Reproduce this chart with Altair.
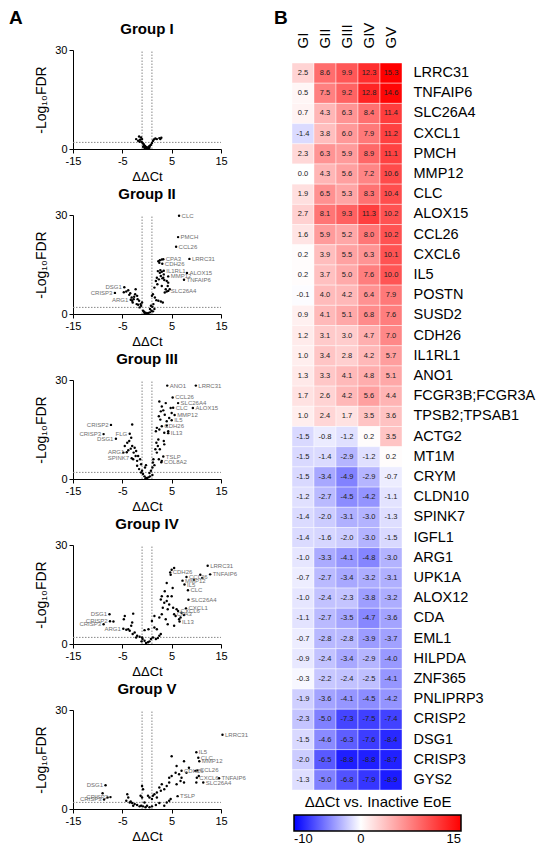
import altair as alt
import pandas as pd

# ---------------- Heatmap data (panel B) ----------------
genes = ["LRRC31", "TNFAIP6", "SLC26A4", "CXCL1", "PMCH", "MMP12", "CLC", "ALOX15",
         "CCL26", "CXCL6", "IL5", "POSTN", "SUSD2", "CDH26", "IL1RL1", "ANO1",
         "FCGR3B;FCGR3A", "TPSB2;TPSAB1", "ACTG2", "MT1M", "CRYM", "CLDN10", "SPINK7",
         "IGFL1", "ARG1", "UPK1A", "ALOX12", "CDA", "EML1", "HILPDA", "ZNF365",
         "PNLIPRP3", "CRISP2", "DSG1", "CRISP3", "GYS2"]
groups = ["GI", "GII", "GIII", "GIV", "GV"]
hm_GI = [2.5, 0.5, 0.7, -1.4, 2.3, 0.0, 1.9, 2.7, 1.6, 0.2, 0.2, -0.1, 0.9, 1.2, 1.0, 1.3,
         1.7, 1.0, -1.5, -1.5, -1.5, -1.2, -1.4, -1.4, -1.0, -0.7, -1.0, -1.1, -0.7, -0.9,
         -0.3, -1.9, -2.3, -1.5, -2.0, -1.3]
hm_GII = [8.6, 7.5, 4.3, 3.8, 6.3, 4.3, 6.5, 8.1, 5.9, 3.9, 3.7, 4.0, 4.1, 3.1, 3.4, 3.3,
          2.6, 2.4, -0.8, -1.4, -3.4, -2.7, -2.0, -1.6, -3.3, -2.7, -2.4, -2.7, -2.8, -2.4,
          -2.2, -3.6, -5.0, -4.6, -6.5, -5.0]
hm_GIII = [9.9, 9.2, 6.3, 6.0, 5.9, 5.6, 5.3, 9.3, 5.2, 5.5, 5.0, 4.2, 5.1, 3.0, 2.8, 4.1,
           4.2, 1.7, -1.2, -2.9, -4.9, -4.5, -3.1, -2.0, -4.1, -3.4, -2.3, -3.5, -2.8, -3.4,
           -2.4, -4.1, -7.3, -6.3, -8.8, -6.8]
hm_GIV = [12.3, 12.8, 8.4, 7.9, 8.9, 7.2, 8.3, 11.3, 8.0, 6.3, 7.6, 6.4, 6.8, 4.7, 4.2, 4.8,
          5.6, 3.5, 0.2, -1.2, -2.9, -4.2, -3.0, -3.0, -4.8, -3.2, -3.8, -4.7, -3.9, -2.9,
          -2.5, -4.5, -7.5, -7.6, -8.8, -7.9]
hm_GV = [15.3, 14.6, 11.4, 11.2, 11.1, 10.6, 10.4, 10.2, 10.2, 10.1, 10.0, 7.9, 7.6, 7.0, 5.7,
         5.1, 4.4, 3.6, 3.5, 0.2, -0.7, -1.1, -1.3, -1.5, -3.0, -3.1, -3.2, -3.6, -3.7, -4.0,
         -4.1, -4.2, -7.4, -8.4, -8.7, -8.9]
color_domain = [-10, 0, 15]
color_range = ["#0000ff", "#ffffff", "#ff0000"]

# ---------------- Volcano data (panel A) ----------------
x_ticks = [-15, -10, -5, 0, 5, 10, 15]
y_ticks = [0, 10, 20, 30]
fc_cut = [-1, 1]
fdr_cut = [2]

g1_x = [-1.2, -1.0, -1.4, -1.8, -1.1, -0.9, -0.7, -0.6, -0.4, -0.2, 0.0, 0.2, 0.4, 0.6, -0.5,
        0.1, 1.4, 1.7, 2.0, 2.5, 2.7, 1.2, 0.8, -0.3, 0.3, -0.8, -1.5, 1.0, -2.2, -1.6, 2.9, 0.5]
g1_y = [3.5, 3.0, 2.8, 2.5, 2.2, 1.8, 1.5, 1.2, 0.9, 0.6, 0.3, 0.5, 0.8, 1.0, 0.3,
        0.1, 2.9, 3.2, 3.0, 3.3, 3.0, 2.4, 1.3, 0.4, 0.2, 0.7, 2.2, 1.8, 3.0, 3.8, 3.4, 0.4]
g1_lab = []
g1_lx = []
g1_ly = []

g2_x = [2.3, 2.6, 3.0, 2.5, 2.2, 2.6, 3.0, 2.8, 3.3, 2.0, 2.4, 1.8, 3.5, 4.0, 2.1, 3.0, 1.5,
        3.8, 4.2, 4.0, 3.6, 1.2, 1.0, 1.6, 1.9, 2.3, 2.8, 3.2, 1.3, 1.1, 1.5, 0.9, 1.2, 0.6,
        0.3, 0.0, -0.3, -0.6, -0.8, -0.5, 0.8, 0.6, 4.6, 4.3, 3.1, 2.7, 3.4,
        -1.2, -1.0, -1.3, -1.6, -1.9, -2.0, -2.4, -2.3, -2.7, -2.9, -3.1, -3.4, -3.6, -3.8,
        -4.2, -4.7, -2.1, -1.5, -2.6, -3.0, -1.8]
g2_y = [16.0, 16.3, 16.5, 15.5, 13.0, 12.5, 12.8, 11.5, 11.0, 11.0, 10.5, 10.0, 10.3, 10.0,
        9.0, 8.5, 8.0, 7.5, 8.5, 6.8, 6.5, 6.0, 5.5, 5.0, 4.2, 4.0, 3.8, 3.5, 3.0, 2.2, 1.5,
        1.0, 0.8, 0.5, 0.3, 0.2, 0.4, 0.7, 1.0, 0.3, 2.5, 1.5, 7.5, 9.5, 10.8, 13.3, 12.0,
        2.5, 3.5, 3.0, 4.0, 4.5, 5.5, 6.0, 7.5, 4.5, 3.5, 5.0, 6.3, 5.8, 7.2,
        6.8, 6.6, 3.0, 2.0, 5.2, 4.0, 2.8]
g2_lab = ["CLC", "PMCH", "CCL26", "LRRC31", "CPA3", "CDH26", "IL1RL1", "ALOX15", "MMP12",
          "TNFAIP6", "SLC26A4", "DSG1", "CRISP3", "ARG1"]
g2_lx = [6.5, 6.3, 5.9, 8.6, 3.3, 3.1, 3.4, 8.1, 4.3, 7.5, 4.3, -4.6, -6.5, -3.3]
g2_ly = [29.8, 23.3, 20.4, 16.7, 16.6, 15.2, 13.1, 12.4, 11.4, 10.4, 7.0, 8.1, 6.4, 4.3]

g3_x = [2.5, 3.0, 2.8, 2.4, 3.3, 2.7, 3.6, 4.0, 4.5, 4.8, 3.8, 5.0, 2.0, 2.5, 1.8, 3.5, 4.0,
        2.3, 1.9, 2.2, 2.6, 1.7, 2.0, 3.4, 3.5, 1.3, 1.2, 1.5, 1.1, 2.4, 3.0, 0.8, 1.1, 0.6,
        0.3, 0.0, -0.3, -0.5, -0.8, -1.2, -1.0, -0.4, -0.2, 0.5, 4.3,
        -1.4, -1.2, -2.0, -2.3, -2.7, -2.5, -3.0, -3.3, -3.6, -3.2, -4.0, -4.5, -4.8, -3.8,
        -2.8, -2.2, -3.0, -1.8, -2.0, -1.6]
g3_y = [23.5, 22.0, 20.5, 19.0, 20.8, 18.0, 19.5, 17.5, 18.5, 21.5, 23.0, 20.0, 15.5, 15.0,
        14.5, 14.0, 16.2, 12.0, 11.0, 10.0, 9.0, 9.0, 8.0, 11.5, 10.5, 6.0, 5.0, 4.2, 3.5,
        6.0, 5.5, 2.5, 1.2, 0.8, 0.5, 0.3, 0.2, 0.8, 1.5, 2.0, 2.5, 3.5, 4.2, 1.8, 14.5,
        6.0, 4.5, 5.5, 7.0, 8.0, 9.5, 10.0, 9.2, 11.5, 12.5, 11.0, 10.0, 8.0, 8.7,
        6.0, 8.5, 16.5, 7.0, 4.0, 3.0]
g3_lab = ["ANO1", "LRRC31", "CCL26", "SLC26A4", "CLC", "ALOX15", "MMP12", "IL5", "CDH26",
          "IL13", "TSLP", "COL8A2", "CRISP2", "CRISP3", "DSG1", "FLG", "ARG1", "SPINK7"]
g3_lx = [4.1, 9.9, 5.2, 6.3, 5.3, 9.3, 5.6, 5.0, 3.0, 4.3, 3.3, 2.9, -7.3, -8.8, -6.3, -3.5,
         -4.1, -3.1]
g3_ly = [28.3, 28.3, 24.7, 23.0, 21.6, 21.5, 19.4, 17.8, 16.0, 13.9, 6.8, 5.1, 16.4, 13.6,
         12.2, 13.7, 8.1, 6.3]

g4_x = [5.0, 5.5, 4.8, 10.8, 11.2, 9.5, 4.0, 5.2, 3.6, 4.2, 3.0, 2.8, 3.5, 4.0, 5.0, 4.5, 5.3,
        6.0, 7.0, 7.5, 6.8, 5.8, 4.2, 3.0, 2.5, 3.8, 1.5, 1.0, 1.5, 4.2, 5.5, 2.0, 2.8, 1.2,
        0.8, 0.5, 0.2, -0.2, -0.5, -0.9, -1.0, -1.1, 1.8, 2.2, 2.5, 0.3, -0.5, 6.5, 3.2,
        -2.8, -4.5, -4.7, -3.0, -3.2, -3.8, -4.2, -2.5, -2.0, -1.5, -2.9, -6.8, -3.5, -2.2]
g4_y = [22.5, 23.0, 21.0, 21.0, 20.0, 19.5, 18.5, 17.0, 16.0, 14.5, 14.5, 13.5, 12.5, 13.0,
        14.5, 12.0, 11.0, 10.5, 9.5, 8.8, 8.0, 8.5, 10.5, 9.0, 8.0, 7.5, 8.5, 7.0, 5.0, 6.0,
        5.5, 4.5, 3.0, 2.0, 1.5, 0.8, 0.5, 0.3, 1.0, 1.5, 2.0, 0.8, 1.5, 1.8, 2.5, 4.5, 4.2,
        7.5, 11.0,
        9.2, 8.5, 7.5, 6.5, 5.5, 4.5, 4.3, 3.5, 2.5, 2.2, 3.0, 6.8, 4.0, 2.0]
g4_lab = ["LRRC31", "TNFAIP6", "CDH26", "CCL26", "MMP12", "IL5", "CLC", "SLC26A4", "CXCL1",
          "CXCL6", "CPA3", "IL13", "DSG1", "CRISP2", "CRISP3", "ARG1"]
g4_lx = [12.3, 12.8, 4.7, 8.0, 7.2, 7.6, 8.3, 8.4, 7.9, 6.3, 5.5, 6.6, -7.6, -7.5, -8.8, -4.8]
g4_ly = [23.7, 21.1, 21.7, 20.3, 19.2, 18.0, 16.3, 13.4, 10.8, 10.0, 9.0, 6.8, 9.0, 6.9, 6.0,
         4.6]

g5_x = [5.0, 7.5, 6.0, 5.8, 5.0, 6.5, 4.5, 7.0, 6.8, 7.5, 4.5, 6.0, 4.0, 3.0, 3.5, 2.5, 2.8,
        2.0, 1.5, 1.2, 2.0, 1.0, 0.5, 0.2, -1.0, -0.8, -1.3, -1.0, -0.5, 0.0, 0.5, 1.0, 1.8,
        2.5, 3.5, 4.5, 4.8, 4.0, 9.8, 10.0, 10.5, 8.0, -0.3, -0.8, 8.5,
        -4.0, -3.8, -4.2, -3.5, -3.0, -2.5, -2.0, -1.5, -3.3, -2.8, -8.0, -9.0, -1.2]
g5_y = [16.0, 14.5, 13.0, 11.0, 10.0, 10.5, 9.5, 9.5, 8.5, 8.0, 8.0, 7.5, 7.0, 7.5, 6.0, 6.5,
        5.5, 5.0, 4.5, 4.0, 3.5, 3.0, 3.5, 4.0, 7.0, 6.0, 4.0, 3.5, 2.0, 1.0, 0.5, 0.8, 1.2,
        1.8, 1.0, 2.5, 3.0, 2.0, 11.5, 8.0, 10.0, 11.0, 0.5, 0.8, 12.5,
        4.5, 3.5, 2.5, 2.0, 1.8, 1.5, 1.2, 0.8, 2.3, 1.0, 3.5, 4.8, 1.0]
g5_lab = ["LRRC31", "IL5", "CLC", "MMP12", "CDH26", "CCL26", "CXCL6", "TNFAIP6", "SLC26A4",
          "TSLP", "DSG1", "CRISP2", "CRISP3"]
g5_lx = [15.3, 10.0, 10.4, 10.6, 7.0, 10.2, 10.1, 14.6, 11.4, 6.2, -8.4, -7.4, -8.7]
g5_ly = [22.5, 17.2, 15.5, 14.5, 11.6, 11.7, 9.5, 9.3, 8.0, 3.9, 7.2, 3.6, 2.9]

group_titles = ["Group I", "Group II", "Group III", "Group IV", "Group V"]

# ---------------- Build volcano panels ----------------
PW, PH = 148, 99
xsc = alt.Scale(domain=[-15, 15], nice=False, zero=False)
ysc = alt.Scale(domain=[0, 30], nice=False)
hyphen = "'' + datum.value"
xaxis = alt.Axis(values=x_ticks, title="ΔΔCt", grid=False, labelFontSize=11, titleFontSize=13,
                 titleFontWeight="normal", domainColor="black", tickColor="black",
                 labelColor="black", titleColor="black", tickSize=4, labelPadding=2,
                 titlePadding=4, labelFlush=False, labelExpr=hyphen)
yaxis = alt.Axis(values=y_ticks, title="-Log₁₀FDR", grid=False, labelFontSize=11,
                 titleFontSize=14, titleFontWeight="normal", domainColor="black",
                 tickColor="black", labelColor="black", titleColor="black", tickSize=4,
                 labelPadding=2, titlePadding=6, labelFlush=False)


def volcano(name, xs, ys, labs, lx, ly, letter=None):
    pts = pd.DataFrame({"x": xs + lx, "y": ys + ly})
    lab = pd.DataFrame({"x": lx, "y": ly, "name": labs})
    X = alt.X("x:Q", scale=xsc, axis=xaxis)
    Y = alt.Y("y:Q", scale=ysc, axis=yaxis)
    vlines = alt.Chart(pd.DataFrame({"x": fc_cut})).mark_rule(
        color="#888888", strokeDash=[1.5, 1.5], strokeWidth=1).encode(
        x=X, y=alt.datum(0), y2=alt.datum(30))
    hline = alt.Chart(pd.DataFrame({"y": fdr_cut})).mark_rule(
        color="#888888", strokeDash=[1.5, 1.5], strokeWidth=1).encode(
        y=Y, x=alt.datum(-15), x2=alt.datum(15))
    dots = alt.Chart(pts).mark_circle(size=6, color="black", opacity=1).encode(x=X, y=Y)
    layers = [vlines, hline, dots]
    if len(labs):
        labR = alt.Chart(lab).transform_filter("datum.x >= 0").mark_text(
            align="left", baseline="middle", dx=2.5, fontSize=6, color="#6e6e6e").encode(
            x=X, y=Y, text="name:N")
        labL = alt.Chart(lab).transform_filter("datum.x < 0").mark_text(
            align="right", baseline="middle", dx=-2.5, fontSize=6, color="#6e6e6e").encode(
            x=X, y=Y, text="name:N")
        layers += [labR, labL]
    ttl = alt.Chart(pd.DataFrame({"t": [name]})).mark_text(
        fontSize=15, fontWeight="bold", align="center", baseline="middle", color="black").encode(
        x=alt.value(PW / 2), y=alt.value(-21), text="t:N")
    layers.append(ttl)
    if letter:
        let = alt.Chart(pd.DataFrame({"t": [letter]})).mark_text(
            fontSize=19, fontWeight="bold", align="left", baseline="top", color="black").encode(
            x=alt.value(-64), y=alt.value(-41), text="t:N")
        layers.append(let)
    return alt.layer(*layers).properties(width=PW, height=PH)


vdata = [(g1_x, g1_y, g1_lab, g1_lx, g1_ly), (g2_x, g2_y, g2_lab, g2_lx, g2_ly),
         (g3_x, g3_y, g3_lab, g3_lx, g3_ly), (g4_x, g4_y, g4_lab, g4_lx, g4_ly),
         (g5_x, g5_y, g5_lab, g5_lx, g5_ly)]
panels = []
for i, (nm, d) in enumerate(zip(group_titles, vdata)):
    panels.append(volcano(nm, *d, letter="A" if i == 0 else None))
left = alt.vconcat(*panels, spacing=66, bounds="flush")

# ---------------- Heatmap ----------------
rows = []
for g, col in zip(groups, [hm_GI, hm_GII, hm_GIII, hm_GIV, hm_GV]):
    for gene, v in zip(genes, col):
        rows.append({"group": g, "gene": gene, "value": v, "label": f"{v:.1f}"})
hm = pd.DataFrame(rows)

HX = alt.X("group:N", sort=groups, scale=alt.Scale(paddingInner=0, paddingOuter=0),
           axis=alt.Axis(orient="top", title=None, labelAngle=270, ticks=False, domain=False,
                         tickSize=0, labelFontSize=15, labelPadding=2, labelColor="black"))
HY = alt.Y("gene:N", sort=genes, scale=alt.Scale(range=[13, 740], paddingInner=0, paddingOuter=0),
           axis=alt.Axis(orient="right", title=None, ticks=False, domain=False, tickSize=0,
                         labelFontSize=14.5, labelPadding=11, labelColor="black"))
HC = alt.Color("value:Q",
               scale=alt.Scale(domain=color_domain, range=color_range, clamp=True,
                               interpolate="rgb"),
               legend=alt.Legend(orient="none", legendX=221, legendY=745, direction="horizontal",
                                 gradientLength=167, gradientThickness=16,
                                 title="ΔΔCt vs. Inactive EoE", titleFontSize=15,
                                 titleFontWeight="normal", titleColor="black",
                                 titleAnchor="middle", titlePadding=5, labelFontSize=13,
                                 labelColor="black", values=color_domain, labelOffset=2,
                                 gradientStrokeColor="black", gradientStrokeWidth=1.5,
                                 padding=0, labelOverlap=False, labelExpr=hyphen))
cells = alt.Chart(hm).mark_rect(stroke="white", strokeWidth=0.6, strokeOpacity=0.7).encode(
    x=HX, y=HY, color=HC)
nums = alt.Chart(hm).mark_text(fontSize=7.5, color="#222222").encode(x=HX, y=HY, text="label:N")
letB = alt.Chart(pd.DataFrame({"t": ["B"]})).mark_text(
    fontSize=19, fontWeight="bold", align="left", baseline="top", color="black").encode(
    x=alt.value(-18), y=alt.value(-41), text="t:N")
heat = alt.layer(cells, nums, letB).properties(width=110, height=740)

chart = alt.hconcat(left, heat, spacing=219, bounds="flush").properties(
    padding=0
).configure(font="Liberation Sans").configure_view(stroke="transparent")

chart.save("out.html", embed_options={"renderer": "svg", "actions": False})
